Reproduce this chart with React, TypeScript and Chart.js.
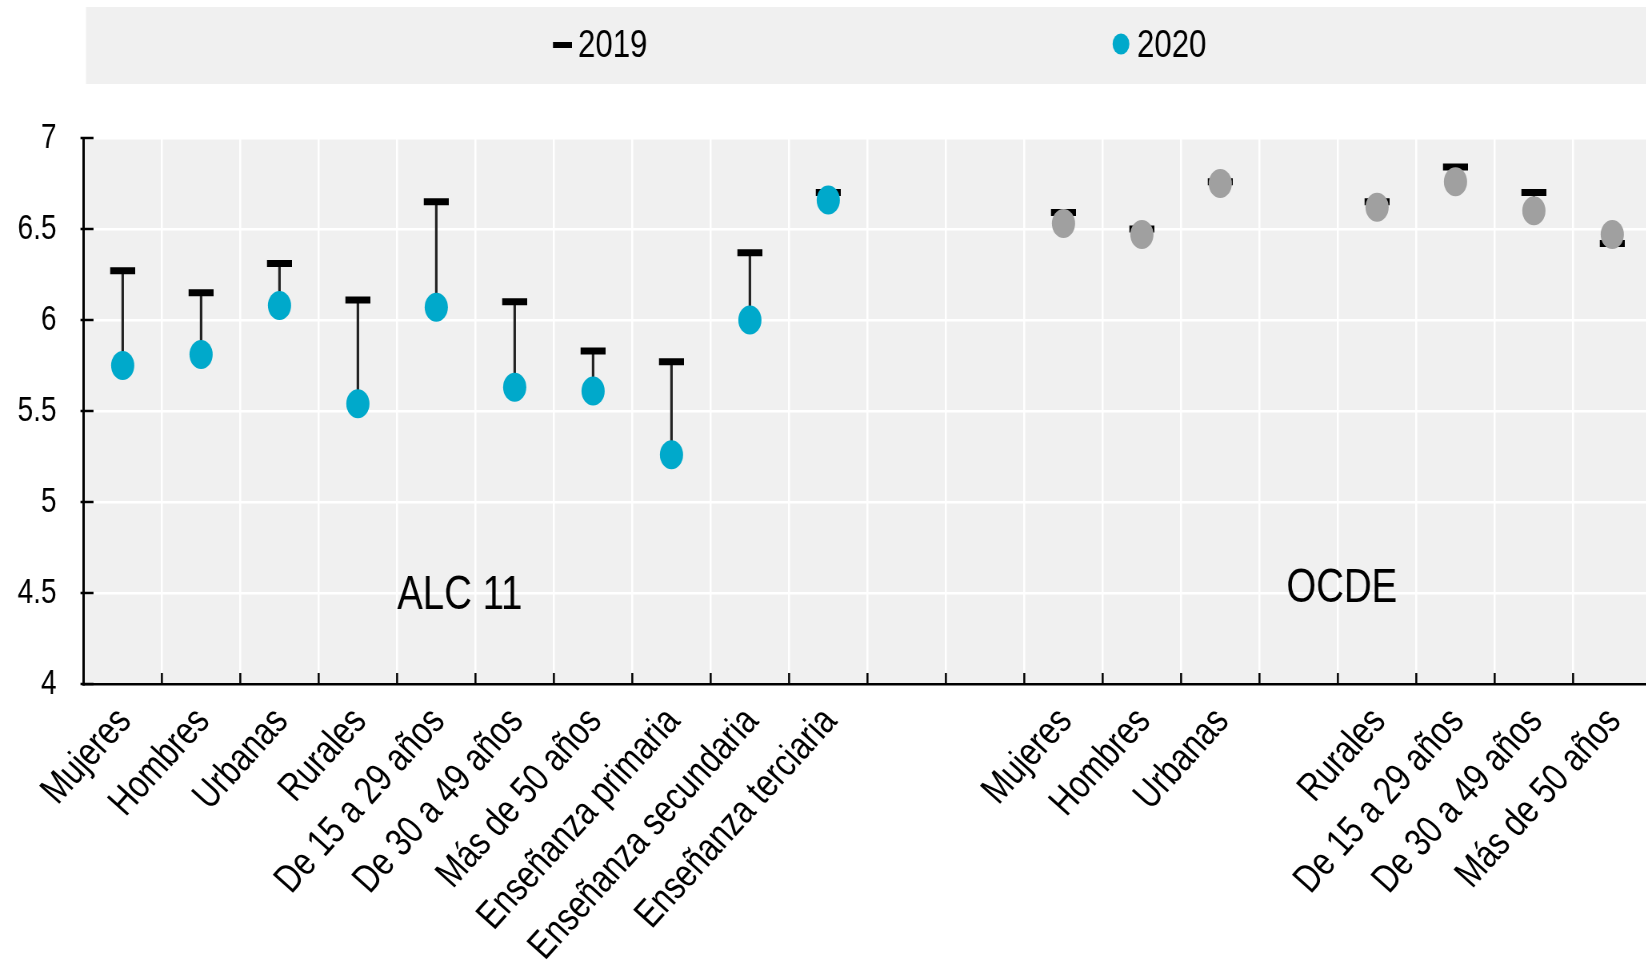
import React, { useEffect, useRef } from 'react';
import { Chart, registerables } from 'chart.js';

Chart.register(...registerables);

// ---------- data ----------
const alcCategories = [
  'Mujeres', 'Hombres', 'Urbanas', 'Rurales', 'De 15 a 29 años', 'De 30 a 49 años',
  'Más de 50 años', 'Enseñanza primaria', 'Enseñanza secundaria', 'Enseñanza terciaria',
];
const alc2019 = [6.27, 6.15, 6.31, 6.11, 6.65, 6.10, 5.83, 5.77, 6.37, 6.70];
const alc2020 = [5.75, 5.81, 6.08, 5.54, 6.07, 5.63, 5.61, 5.26, 6.00, 6.66];

const gapCategories = ['', ''];

const ocdeCategories = [
  'Mujeres', 'Hombres', 'Urbanas', '', 'Rurales', 'De 15 a 29 años', 'De 30 a 49 años', 'Más de 50 años',
];
const ocde2019 = [6.59, 6.50, 6.76, null, 6.65, 6.84, 6.70, 6.42];
const ocde2020 = [6.53, 6.47, 6.75, null, 6.62, 6.76, 6.60, 6.47];

const seriesLabels = ['2019', '2020'];
const groupLabels = ['ALC 11', 'OCDE'];
// annotation anchor positions in data units (category index, y value)
const groupLabelX = [4.3, 15.55];
const groupLabelY = [4.41, 4.45];

const yMin = 4;
const yMax = 7;
const yStep = 0.5;

// ---------- styles ----------
const FONT = "'Liberation Sans', Arial, sans-serif";
const TEAL = '#00a9cb';
const GREY_DOT = '#a0a0a0';
const PANEL = '#f0f0f0';
const SX = 0.8; // horizontal condensing of the whole drawing (narrow type look)
const DW = 1656; // displayed width
const H = 962;
const W = DW / SX; // internal canvas width
const ix = (px: number) => px / SX; // displayed px -> internal px
const X_LABEL_SIZE = 39.5;
const X_LABEL_ANGLE = 48; // degrees
const X_LABEL_DX = 2; // displayed px right of category centre
const X_LABEL_DY = 31; // px below the axis

const categories = [...alcCategories, ...gapCategories, ...ocdeCategories];
const nullsGap = gapCategories.map(() => null);
const values2019 = [...alc2019, ...nullsGap, ...ocde2019];
const values2020 = [...alc2020, ...nullsGap, ...ocde2020];
const dotColors = [
  ...alc2020.map(() => TEAL),
  ...nullsGap.map(() => TEAL),
  ...ocde2020.map(() => GREY_DOT),
];
const ranges = values2019.map((v, i) => {
  const w = values2020[i];
  return v == null || w == null ? null : [Math.min(v, w), Math.max(v, w)];
});

const decorPlugin = {
  id: 'decor',
  beforeDraw(chart: any) {
    const { ctx, chartArea: ca } = chart;
    ctx.save();
    ctx.fillStyle = PANEL;
    ctx.fillRect(ca.left, ca.top, ca.right - ca.left, ca.bottom - ca.top);
    // legend band
    ctx.fillRect(ca.left + ix(2.5), 7, chart.width - ca.left, 77);
    ctx.restore();
  },
  afterDraw(chart: any) {
    const { ctx, chartArea: ca } = chart;
    const xs = chart.scales.x;
    const ys = chart.scales.y;
    ctx.save();
    // inward tick marks
    ctx.strokeStyle = '#000';
    ctx.lineWidth = 2.5;
    ctx.beginPath();
    const n = categories.length;
    for (let i = 0; i <= n; i++) {
      const px = i === 0 ? ca.left : i === n ? ca.right : (xs.getPixelForValue(i - 1) + xs.getPixelForValue(i)) / 2;
      ctx.moveTo(px, ca.bottom);
      ctx.lineTo(px, ca.bottom - 11);
    }
    for (let v = yMin; v <= yMax + 1e-9; v += yStep) {
      const py = ys.getPixelForValue(v);
      ctx.moveTo(ca.left - ix(3), py);
      ctx.lineTo(ca.left + ix(10), py);
    }
    ctx.stroke();

    // category labels (rotated, condensed along the baseline without shear)
    ctx.fillStyle = '#000';
    ctx.font = `${X_LABEL_SIZE}px ${FONT}`;
    ctx.textAlign = 'right';
    ctx.textBaseline = 'middle';
    xs.ticks.forEach((t: any, i: number) => {
      const lab = categories[i];
      if (!lab) return;
      const x = xs.getPixelForTick(i) + ix(X_LABEL_DX);
      ctx.save();
      ctx.translate(x, ca.bottom + X_LABEL_DY);
      ctx.scale(1 / SX, 1);
      ctx.rotate((-X_LABEL_ANGLE * Math.PI) / 180);
      ctx.scale(SX, 1);
      ctx.fillText(lab, 0, 0);
      ctx.restore();
    });

    // group annotations
    ctx.font = `48px ${FONT}`;
    ctx.textAlign = 'center';
    ctx.textBaseline = 'alphabetic';
    groupLabels.forEach((t, i) => {
      ctx.fillText(t, xs.getPixelForValue(groupLabelX[i]), ys.getPixelForValue(groupLabelY[i]));
    });

    // legend
    const ds = chart.data.datasets;
    ctx.font = `39px ${FONT}`;
    ctx.textAlign = 'left';
    ctx.textBaseline = 'middle';
    ctx.fillStyle = '#000';
    ctx.fillRect(ix(553), 42, ix(19), 6);
    ctx.fillText(ds[1].label, ix(578), 46);
    ctx.fillStyle = TEAL;
    ctx.beginPath();
    ctx.arc(ix(1121), 44, 10.5, 0, Math.PI * 2);
    ctx.fill();
    ctx.fillStyle = '#000';
    ctx.fillText(ds[2].label, ix(1137), 46);
    ctx.restore();
  },
};

export default function App() {
  const ref = useRef<HTMLCanvasElement>(null);

  useEffect(() => {
    if (!ref.current) return;
    const chart = new Chart(ref.current, {
      type: 'bar',
      data: {
        labels: categories,
        datasets: [
          {
            type: 'bar',
            label: 'range',
            data: ranges as any,
            backgroundColor: '#222',
            barThickness: ix(2),
            order: 3,
          },
          {
            type: 'line',
            label: seriesLabels[0],
            data: values2019 as any,
            showLine: false,
            pointStyle: 'line',
            pointRadius: ix(12.5),
            pointBorderWidth: 7,
            pointBorderColor: '#000',
            borderColor: '#000',
            order: 2,
          },
          {
            type: 'line',
            label: seriesLabels[1],
            data: values2020 as any,
            showLine: false,
            pointStyle: 'circle',
            pointRadius: 14.5,
            pointBorderWidth: 0,
            pointBackgroundColor: dotColors,
            borderColor: TEAL,
            order: 1,
          },
        ],
      } as any,
      options: {
        responsive: false,
        animation: false,
        devicePixelRatio: 1,
        layout: { autoPadding: false, padding: { top: 138, left: ix(10), right: ix(4.5), bottom: 0 } },
        plugins: {
          legend: { display: false },
          tooltip: { enabled: false },
        },
        scales: {
          x: {
            offset: true,
            grid: { offset: true, color: '#ffffff', lineWidth: 2.5, drawTicks: false },
            border: { display: true, color: '#000', width: 2.5 },
            ticks: { display: false, autoSkip: false },
            afterFit: (s: any) => {
              s.height = H - 684;
              s.paddingLeft = 0;
              s.paddingRight = 0;
            },
          },
          y: {
            min: yMin,
            max: yMax,
            grid: { color: '#ffffff', lineWidth: 2.5, drawTicks: false },
            border: { display: true, color: '#000', width: 3 },
            ticks: {
              stepSize: yStep,
              color: '#000',
              font: { family: FONT, size: 35 },
              padding: ix(27),
              callback: (v: any) => `${+v}`,
            },
            afterFit: (s: any) => { s.width = ix(83.5 - 10); },
          },
        },
      } as any,
      plugins: [decorPlugin],
    });
    return () => chart.destroy();
  }, []);

  return (
    <div style={{ position: 'absolute', left: 0, top: 0, width: 1646, height: 962, overflow: 'hidden', background: '#fff' }}>
      <canvas
        ref={ref}
        width={W}
        height={H}
        style={{ display: 'block', width: W, height: H, transform: `scaleX(${SX})`, transformOrigin: '0 0' }}
      />
    </div>
  );
}
